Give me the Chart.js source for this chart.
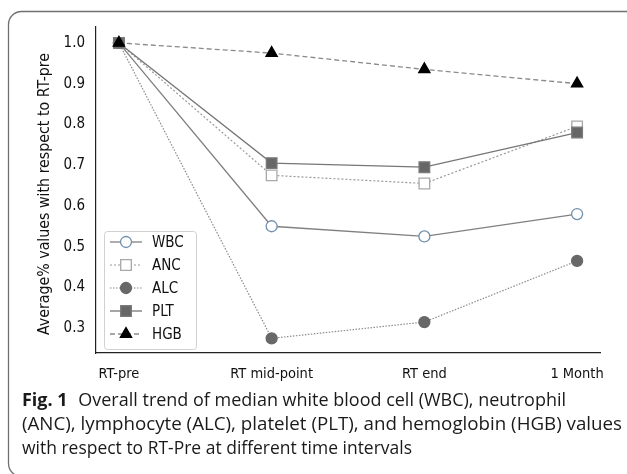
<!DOCTYPE html>
<html>
<head>
<meta charset="utf-8">
<script src="https://cdn.jsdelivr.net/npm/chart.js@4.4.1/dist/chart.umd.min.js"></script>
<style>
  html, body { margin: 0; padding: 0; background: #fff; overflow: hidden; }
  #wrap { position: relative; width: 627px; height: 474px; overflow: hidden; }
  #chart { position: absolute; left: 0; top: 0; }
  #caption {
    position: absolute; left: 22px; top: 387px; white-space: nowrap;
    font-family: "Open Sans", sans-serif; font-size: 18px; line-height: 24px;
    color: #1a1a1a;
  }
  #caption span { display: block; transform-origin: 0 0; width: max-content; }
  #caption b { font-weight: 700; margin-right: 6px; }
</style>
</head>
<body>
<div id="wrap">
  <canvas id="chart" width="627" height="474"></canvas>
  <div id="caption">
    <span data-w="544"><b>Fig. 1</b> Overall trend of median white blood cell (WBC), neutrophil</span>
    <span data-w="600">(ANC), lymphocyte (ALC), platelet (PLT), and hemoglobin (HGB) values</span>
    <span data-w="390">with respect to RT-Pre at different time intervals</span>
  </div>
</div>
<script>
// Time points on the x axis
const timePoints = ['RT-pre', 'RT mid-point', 'RT end', '1 Month'];
// y tick labels
const yTicks = [0.3, 0.4, 0.5, 0.6, 0.7, 0.8, 0.9, 1.0];

// Average % values with respect to RT-pre
const wbc = [1.0, 0.55, 0.525, 0.58];
const anc = [1.0, 0.675, 0.655, 0.795];
const alc = [1.0, 0.275, 0.315, 0.465];
const plt = [1.0, 0.705, 0.695, 0.78];
const hgb = [1.0, 0.975, 0.935, 0.90];

// squeeze each caption line to the width it has in the original figure
document.querySelectorAll('#caption span').forEach(el => {
  const w = el.getBoundingClientRect().width;
  el.style.transform = 'scaleX(' + (el.dataset.w / w) + ')';
});

function pts(vals) {
  return vals.map((v, i) => ({ x: i, y: v }));
}

const series = [
  { label: 'WBC', data: wbc, line: '#808080', dash: [], width: 1.3,
    shape: 'circle', fill: '#ffffff', edge: '#6f8fae', r: 5.5 },
  { label: 'ANC', data: anc, line: '#9a9a9a', dash: [2, 2], width: 1.2,
    shape: 'rect', fill: '#ffffff', edge: '#a8a8a8', r: 7.5 },
  { label: 'ALC', data: alc, line: '#8c8c8c', dash: [1.5, 1.5], width: 1.2,
    shape: 'circle', fill: '#686868', edge: '#686868', r: 5.5 },
  { label: 'PLT', data: plt, line: '#767676', dash: [], width: 1.3,
    shape: 'rect', fill: '#676767', edge: '#7a7a7a', r: 7.5 },
  { label: 'HGB', data: hgb, line: '#8a8a8a', dash: [5, 3], width: 1.3,
    shape: 'triangle', fill: '#000000', edge: '#000000', r: 6.5 }
];

// the rounded figure frame, running off the right and bottom edges
const frame = {
  id: 'frame',
  beforeDraw(chart) {
    const ctx = chart.ctx;
    ctx.save();
    ctx.strokeStyle = '#707070';
    ctx.lineWidth = 1.3;
    ctx.beginPath();
    ctx.roundRect(8.5, 11.5, 700, 465, 13);
    ctx.stroke();
    ctx.restore();
  }
};

// Legend box drawn from the datasets (line sample + marker)
const legendBox = {
  id: 'legendBox',
  afterDraw(chart) {
    const ctx = chart.ctx;
    const x0 = 104, y0 = 231, w = 92, h = 118;
    ctx.save();
    ctx.fillStyle = 'rgba(255,255,255,0.85)';
    ctx.strokeStyle = '#d0d0d0';
    ctx.lineWidth = 1;
    ctx.beginPath();
    ctx.roundRect(x0 + 0.5, y0 + 0.5, w, h, 3);
    ctx.fill();
    ctx.stroke();
    chart.data.datasets.forEach((ds, i) => {
      const yy = y0 + 11 + i * 23;
      ctx.strokeStyle = ds.borderColor;
      ctx.lineWidth = ds.borderWidth;
      ctx.setLineDash(ds.borderDash || []);
      ctx.beginPath();
      ctx.moveTo(110, yy);
      ctx.lineTo(142, yy);
      ctx.stroke();
      ctx.setLineDash([]);
      ctx.fillStyle = ds.pointBackgroundColor;
      ctx.strokeStyle = ds.pointBorderColor;
      ctx.lineWidth = ds.pointBorderWidth;
      Chart.helpers.drawPoint(ctx, {
        pointStyle: ds.pointStyle, radius: ds.pointRadius, borderWidth: ds.pointBorderWidth
      }, 126, yy);
      ctx.fillStyle = '#111';
      ctx.font = '15px "DejaVu Sans Condensed"';
      ctx.textBaseline = 'middle';
      ctx.fillText(ds.label, 152, yy + 1);
    });
    ctx.restore();
  }
};

// Y axis title drawn as rotated text
const yTitle = {
  id: 'yTitle',
  afterDraw(chart) {
    const ctx = chart.ctx;
    ctx.save();
    ctx.translate(45, 194);
    ctx.rotate(-Math.PI / 2);
    ctx.font = '15.8px "DejaVu Sans Condensed"';
    ctx.fillStyle = '#111';
    ctx.textAlign = 'center';
    ctx.textBaseline = 'middle';
    ctx.fillText('Average% values with respect to RT-pre', 0, 0);
    ctx.restore();
  }
};

new Chart(document.getElementById('chart'), {
  type: 'line',
  data: {
    datasets: series.map((s, i) => ({
      label: s.label,
      data: pts(s.data),
      borderColor: s.line,
      borderWidth: s.width,
      borderDash: s.dash,
      pointStyle: s.shape,
      pointRadius: s.r,
      pointHoverRadius: s.r,
      pointBackgroundColor: s.fill,
      pointBorderColor: s.edge,
      pointBorderWidth: 1.3,
      tension: 0,
      fill: false,
      order: series.length - i
    }))
  },
  options: {
    responsive: false,
    animation: false,
    layout: { padding: { top: 27, right: 27, left: 0, bottom: 0 } },
    plugins: { legend: { display: false }, tooltip: { enabled: false } },
    scales: {
      x: {
        type: 'linear',
        min: -0.15, max: 3.15,
        afterBuildTicks: (sc) => { sc.ticks = timePoints.map((_, i) => ({ value: i })); },
        afterFit: (sc) => { sc.height = 474 - 353; },
        grid: { display: false, drawTicks: true, tickLength: 5, tickColor: '#222' },
        border: { display: true, color: '#222', width: 1.2 },
        ticks: {
          callback: (v) => timePoints[v],
          color: '#111', padding: 8,
          font: { family: 'DejaVu Sans Condensed', size: 14.5 },
          maxRotation: 0
        }
      },
      y: {
        min: 0.239, max: 1.039,
        afterBuildTicks: (sc) => { sc.ticks = yTicks.map(v => ({ value: v })); },
        afterFit: (sc) => { sc.width = 96; },
        grid: { display: false, drawTicks: true, tickLength: 5, tickColor: '#222' },
        border: { display: true, color: '#222', width: 1.2 },
        ticks: {
          callback: (v) => v.toFixed(1),
          color: '#111', padding: 6,
          font: { family: 'DejaVu Sans Condensed', size: 15 }
        }
      }
    }
  },
  plugins: [frame, legendBox, yTitle]
});
</script>
</body>
</html>
